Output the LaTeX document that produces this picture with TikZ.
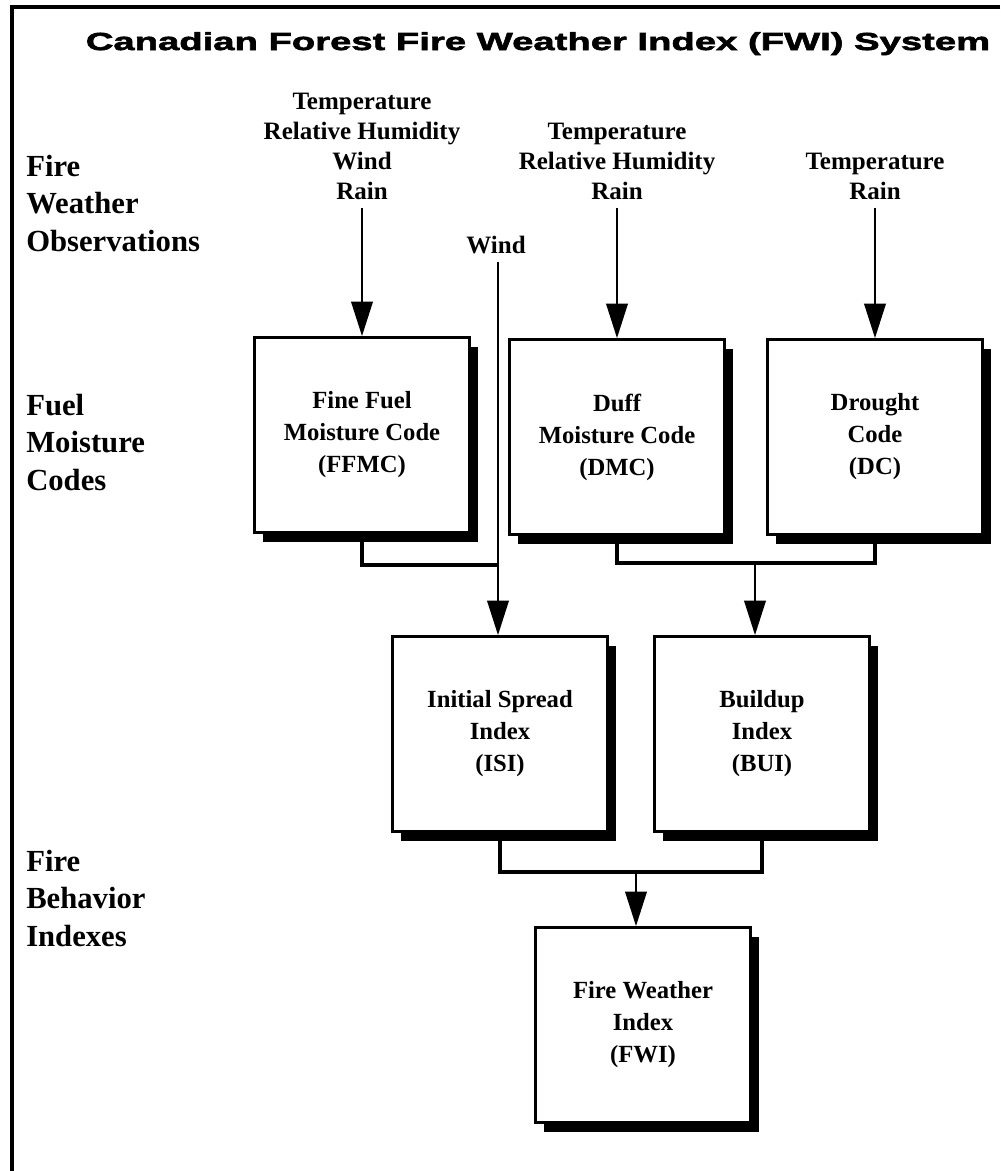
\documentclass[tikz,border=0pt]{standalone}
\usepackage{fontspec}
\setmainfont{Liberation Serif}
\newfontfamily\titlefont[FakeStretch=1.55,FakeBold=2.5]{Liberation Sans}
\usetikzlibrary{arrows.meta,shadows}

\tikzset{
  codebox/.style={draw,line width=2.2pt,fill=white,minimum width=161pt,minimum height=146pt,
    align=center,inner sep=0.75pt,font=\bfseries\fontsize{18.5}{24}\selectfont,
    drop shadow={shadow xshift=6.5pt,shadow yshift=-7pt,opacity=1,fill=black}},
  obstext/.style={anchor=south,align=center,inner sep=0.75pt,font=\bfseries\fontsize{18.75}{22.5}\selectfont},
  rowlabel/.style={anchor=north west,align=left,inner sep=0.75pt,font=\bfseries\fontsize{23}{28}\selectfont},
  link/.style={line width=2.6pt},
  flow/.style={line width=2.2pt,-{Triangle[width=16pt,length=26pt]}},
}

\begin{document}
\begin{tikzpicture}[x=0.75pt,y=0.75pt,yscale=-1]
\useasboundingbox (0,0) rectangle (1000,1171);

%Frame
\draw [line width=2.5pt] (1000,7) -- (12,7) -- (12,1171) ;

% Title
\draw (538,50) node (title) [anchor=base,inner sep=0.75pt,font=\titlefont\bfseries\fontsize{18.5}{22}\selectfont] {Canadian Forest Fire Weather Index (FWI) System};

% Row labels
\draw (25,154) node (rowobs) [rowlabel] {Fire\\Weather\\Observations};
\draw (25,393) node (rowcode) [rowlabel] {Fuel\\Moisture\\Codes};
\draw (25,849) node (rowindex) [rowlabel] {Fire\\Behavior\\Indexes};

% Observations
\draw (362,201) node (obsffmc) [obstext] {Temperature\\Relative Humidity\\Wind\\Rain};
\draw (617,201) node (obsdmc) [obstext] {Temperature\\Relative Humidity\\Rain};
\draw (875,201) node (obsdc) [obstext] {Temperature\\Rain};
\draw (496,245) node (obswind) [obstext,anchor=center] {Wind};

% Connectors
\coordinate (ffmcjoin) at (498,565);
\coordinate (codejoin) at (755,563);
\coordinate (indexjoin) at (636,872);

% Boxes
\draw (362,435) node (ffmc) [codebox] {Fine Fuel\\Moisture Code\\(FFMC)};
\draw (617,437) node (dmc) [codebox] {Duff\\Moisture Code\\(DMC)};
\draw (875,437) node (dc) [codebox] {Drought\\Code\\(DC)};
\draw (500,734) node (isi) [codebox] {Initial Spread\\Index\\(ISI)};
\draw (762,734) node (bui) [codebox] {Buildup\\Index\\(BUI)};
\draw (643,1025) node (fwi) [codebox] {Fire Weather\\Index\\(FWI)};

%Straight Lines
\draw [flow] ([yshift=5pt]obsffmc.south) -- (ffmc.north) ;
\draw [flow] ([yshift=5pt]obsdmc.south) -- (dmc.north) ;
\draw [flow] ([yshift=5pt]obsdc.south) -- (dc.north) ;
\draw [flow] ([yshift=5pt]obswind.south -| ffmcjoin) -- (ffmcjoin |- isi.north) ;
\draw [link] (ffmc.south) |- (ffmcjoin) ;
\draw [link] (dmc.south) |- (codejoin) -| (dc.south) ;
\draw [flow] (codejoin) -- (codejoin |- bui.north) ;
\draw [link] (isi.south) |- (indexjoin) -| (bui.south) ;
\draw [flow] (indexjoin) -- (indexjoin |- fwi.north) ;

\end{tikzpicture}
\end{document}
